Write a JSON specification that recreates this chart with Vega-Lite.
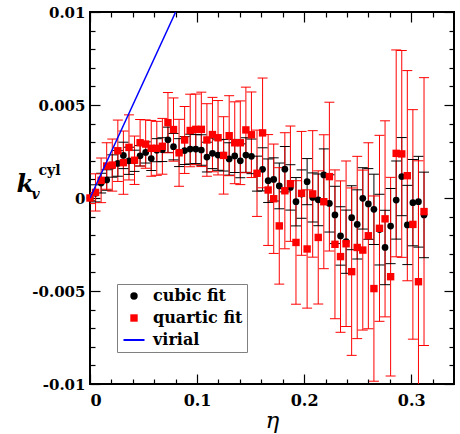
{
 "$schema": "https://vega.github.io/schema/vega-lite/v6.json",
 "width": 364,
 "height": 372,
 "autosize": "none",
 "padding": {"left": 90, "top": 12, "right": 6, "bottom": 50},
 "background": "white",
 "config": {
  "font": "DejaVu Serif",
  "view": {"stroke": "black", "strokeWidth": 2},
  "axis": {"grid": false, "domain": false, "tickColor": "black", "tickWidth": 1.2, "labelFont": "DejaVu Serif", "labelFontWeight": "bold", "labelColor": "black", "labelFontSize": 16, "titleFont": "DejaVu Serif", "titleColor": "black"},
  "legend": {"labelFont": "DejaVu Serif"}
 },
 "datasets": {
  "pts": [
   {"fit":"cubic fit","eta":0,"k":0,"lo":-0.00015,"hi":0.00015},
   {"fit":"cubic fit","eta":0.0052,"k":0.00025,"lo":-0.00021,"hi":0.00071},
   {"fit":"cubic fit","eta":0.0104,"k":0.0008,"lo":0.00027,"hi":0.00133},
   {"fit":"cubic fit","eta":0.0156,"k":0.00097,"lo":0.00042,"hi":0.00152},
   {"fit":"cubic fit","eta":0.0208,"k":0.00172,"lo":0.00112,"hi":0.00232},
   {"fit":"cubic fit","eta":0.026,"k":0.00186,"lo":0.00117,"hi":0.00255},
   {"fit":"cubic fit","eta":0.0312,"k":0.00229,"lo":0.00158,"hi":0.003},
   {"fit":"cubic fit","eta":0.0364,"k":0.002,"lo":0.00127,"hi":0.00273},
   {"fit":"cubic fit","eta":0.0416,"k":0.002,"lo":0.00143,"hi":0.00257},
   {"fit":"cubic fit","eta":0.0468,"k":0.00227,"lo":0.00172,"hi":0.00282},
   {"fit":"cubic fit","eta":0.052,"k":0.00245,"lo":0.00188,"hi":0.00302},
   {"fit":"cubic fit","eta":0.0572,"k":0.00212,"lo":0.00148,"hi":0.00276},
   {"fit":"cubic fit","eta":0.0624,"k":0.00257,"lo":0.00195,"hi":0.00319},
   {"fit":"cubic fit","eta":0.0676,"k":0.0026,"lo":0.00196,"hi":0.00324},
   {"fit":"cubic fit","eta":0.0728,"k":0.00313,"lo":0.00245,"hi":0.00381},
   {"fit":"cubic fit","eta":0.078,"k":0.00276,"lo":0.00205,"hi":0.00347},
   {"fit":"cubic fit","eta":0.0832,"k":0.00244,"lo":0.00169,"hi":0.00319},
   {"fit":"cubic fit","eta":0.0884,"k":0.00255,"lo":0.0018,"hi":0.0033},
   {"fit":"cubic fit","eta":0.0936,"k":0.00263,"lo":0.00183,"hi":0.00343},
   {"fit":"cubic fit","eta":0.0988,"k":0.00263,"lo":0.00185,"hi":0.00341},
   {"fit":"cubic fit","eta":0.104,"k":0.00258,"lo":0.00176,"hi":0.0034},
   {"fit":"cubic fit","eta":0.1092,"k":0.0022,"lo":0.0014,"hi":0.003},
   {"fit":"cubic fit","eta":0.1144,"k":0.0024,"lo":0.00158,"hi":0.00322},
   {"fit":"cubic fit","eta":0.1196,"k":0.00231,"lo":0.00149,"hi":0.00313},
   {"fit":"cubic fit","eta":0.1248,"k":0.0023,"lo":0.00145,"hi":0.00315},
   {"fit":"cubic fit","eta":0.13,"k":0.0021,"lo":0.00123,"hi":0.00297},
   {"fit":"cubic fit","eta":0.1352,"k":0.00226,"lo":0.00137,"hi":0.00315},
   {"fit":"cubic fit","eta":0.1404,"k":0.002,"lo":0.00109,"hi":0.00291},
   {"fit":"cubic fit","eta":0.1456,"k":0.00231,"lo":0.00138,"hi":0.00324},
   {"fit":"cubic fit","eta":0.1508,"k":0.00224,"lo":0.00131,"hi":0.00317},
   {"fit":"cubic fit","eta":0.156,"k":0.00131,"lo":0.00037,"hi":0.00225},
   {"fit":"cubic fit","eta":0.1612,"k":0.00154,"lo":0.00038,"hi":0.0027},
   {"fit":"cubic fit","eta":0.1664,"k":0.00093,"lo":-0.00024,"hi":0.0021},
   {"fit":"cubic fit","eta":0.1716,"k":0.001,"lo":-0.00016,"hi":0.00216},
   {"fit":"cubic fit","eta":0.1768,"k":0.00065,"lo":-0.00058,"hi":0.00188},
   {"fit":"cubic fit","eta":0.182,"k":0.00155,"lo":0.00033,"hi":0.00277},
   {"fit":"cubic fit","eta":0.1872,"k":0.00057,"lo":-0.00065,"hi":0.00179},
   {"fit":"cubic fit","eta":0.1924,"k":-0.0002,"lo":-0.0015,"hi":0.0011},
   {"fit":"cubic fit","eta":0.1976,"k":0.00021,"lo":-0.00109,"hi":0.00151},
   {"fit":"cubic fit","eta":0.2028,"k":0.00088,"lo":-0.00036,"hi":0.00212},
   {"fit":"cubic fit","eta":0.208,"k":0.00003,"lo":-0.00129,"hi":0.00135},
   {"fit":"cubic fit","eta":0.2132,"k":-0.0001,"lo":-0.00149,"hi":0.00129},
   {"fit":"cubic fit","eta":0.2184,"k":0.00124,"lo":-0.00016,"hi":0.00264},
   {"fit":"cubic fit","eta":0.2236,"k":-0.00029,"lo":-0.00183,"hi":0.00125},
   {"fit":"cubic fit","eta":0.2288,"k":-0.00091,"lo":-0.00245,"hi":0.00063},
   {"fit":"cubic fit","eta":0.234,"k":-0.00204,"lo":-0.00361,"hi":-0.00047},
   {"fit":"cubic fit","eta":0.2392,"k":-0.00235,"lo":-0.00405,"hi":-0.00065},
   {"fit":"cubic fit","eta":0.2444,"k":-0.00106,"lo":-0.00278,"hi":0.00066},
   {"fit":"cubic fit","eta":0.2496,"k":-0.00142,"lo":-0.00328,"hi":0.00044},
   {"fit":"cubic fit","eta":0.2548,"k":-0.00002,"lo":-0.00167,"hi":0.00163},
   {"fit":"cubic fit","eta":0.26,"k":-0.00032,"lo":-0.00222,"hi":0.00158},
   {"fit":"cubic fit","eta":0.2652,"k":-0.00061,"lo":-0.0025,"hi":0.00128},
   {"fit":"cubic fit","eta":0.2704,"k":-0.0017,"lo":-0.0036,"hi":0.0002},
   {"fit":"cubic fit","eta":0.2756,"k":-0.00266,"lo":-0.00466,"hi":-0.00066},
   {"fit":"cubic fit","eta":0.2808,"k":-0.00151,"lo":-0.00353,"hi":0.00051},
   {"fit":"cubic fit","eta":0.286,"k":-0.00011,"lo":-0.00221,"hi":0.00199},
   {"fit":"cubic fit","eta":0.2912,"k":0.00115,"lo":-0.00095,"hi":0.00325},
   {"fit":"cubic fit","eta":0.2964,"k":-0.00145,"lo":-0.00358,"hi":0.00068},
   {"fit":"cubic fit","eta":0.3016,"k":-0.00025,"lo":-0.00257,"hi":0.00207},
   {"fit":"cubic fit","eta":0.3068,"k":-0.0002,"lo":-0.00264,"hi":0.00224},
   {"fit":"cubic fit","eta":0.312,"k":-0.00091,"lo":-0.00321,"hi":0.00139},
   {"fit":"quartic fit","eta":0,"k":0,"lo":-0.0003,"hi":0.0003},
   {"fit":"quartic fit","eta":0.0052,"k":0.0003,"lo":-0.0007,"hi":0.0013},
   {"fit":"quartic fit","eta":0.0104,"k":0.00095,"lo":-0.00025,"hi":0.00215},
   {"fit":"quartic fit","eta":0.0156,"k":0.00172,"lo":0.00047,"hi":0.00297},
   {"fit":"quartic fit","eta":0.0208,"k":0.00177,"lo":0.00037,"hi":0.00317},
   {"fit":"quartic fit","eta":0.026,"k":0.00254,"lo":0.00089,"hi":0.00419},
   {"fit":"quartic fit","eta":0.0312,"k":0.0019,"lo":0.0002,"hi":0.0036},
   {"fit":"quartic fit","eta":0.0364,"k":0.00272,"lo":0.00097,"hi":0.00447},
   {"fit":"quartic fit","eta":0.0416,"k":0.00203,"lo":0.00073,"hi":0.00333},
   {"fit":"quartic fit","eta":0.0468,"k":0.00297,"lo":0.00172,"hi":0.00422},
   {"fit":"quartic fit","eta":0.052,"k":0.0029,"lo":0.0016,"hi":0.0042},
   {"fit":"quartic fit","eta":0.0572,"k":0.00267,"lo":0.00117,"hi":0.00417},
   {"fit":"quartic fit","eta":0.0624,"k":0.00267,"lo":0.00122,"hi":0.00412},
   {"fit":"quartic fit","eta":0.0676,"k":0.00278,"lo":0.00128,"hi":0.00428},
   {"fit":"quartic fit","eta":0.0728,"k":0.00405,"lo":0.00243,"hi":0.00567},
   {"fit":"quartic fit","eta":0.078,"k":0.00368,"lo":0.00198,"hi":0.00538},
   {"fit":"quartic fit","eta":0.0832,"k":0.00243,"lo":0.00063,"hi":0.00423},
   {"fit":"quartic fit","eta":0.0884,"k":0.00312,"lo":0.00132,"hi":0.00492},
   {"fit":"quartic fit","eta":0.0936,"k":0.00363,"lo":0.00168,"hi":0.00558},
   {"fit":"quartic fit","eta":0.0988,"k":0.00369,"lo":0.00179,"hi":0.00559},
   {"fit":"quartic fit","eta":0.104,"k":0.00369,"lo":0.00169,"hi":0.00569},
   {"fit":"quartic fit","eta":0.1092,"k":0.00312,"lo":0.00117,"hi":0.00507},
   {"fit":"quartic fit","eta":0.1144,"k":0.00341,"lo":0.00141,"hi":0.00541},
   {"fit":"quartic fit","eta":0.1196,"k":0.00324,"lo":0.00124,"hi":0.00524},
   {"fit":"quartic fit","eta":0.1248,"k":0.00229,"lo":0.00021,"hi":0.00437},
   {"fit":"quartic fit","eta":0.13,"k":0.00335,"lo":0.0012,"hi":0.0055},
   {"fit":"quartic fit","eta":0.1352,"k":0.00297,"lo":0.00077,"hi":0.00517},
   {"fit":"quartic fit","eta":0.1404,"k":0.00297,"lo":0.00072,"hi":0.00522},
   {"fit":"quartic fit","eta":0.1456,"k":0.00366,"lo":0.00136,"hi":0.00596},
   {"fit":"quartic fit","eta":0.1508,"k":0.0034,"lo":0.0011,"hi":0.0057},
   {"fit":"quartic fit","eta":0.156,"k":0.00133,"lo":-0.00099,"hi":0.00365},
   {"fit":"quartic fit","eta":0.1612,"k":0.0035,"lo":0.00055,"hi":0.00645},
   {"fit":"quartic fit","eta":0.1664,"k":0.00043,"lo":-0.00255,"hi":0.00341},
   {"fit":"quartic fit","eta":0.1716,"k":-0.00004,"lo":-0.00298,"hi":0.0029},
   {"fit":"quartic fit","eta":0.1768,"k":-0.0015,"lo":-0.00463,"hi":0.00163},
   {"fit":"quartic fit","eta":0.182,"k":0.00039,"lo":-0.00273,"hi":0.00351},
   {"fit":"quartic fit","eta":0.1872,"k":0.00077,"lo":-0.00233,"hi":0.00387},
   {"fit":"quartic fit","eta":0.1924,"k":-0.00239,"lo":-0.00571,"hi":0.00093},
   {"fit":"quartic fit","eta":0.1976,"k":0.00025,"lo":-0.00308,"hi":0.00358},
   {"fit":"quartic fit","eta":0.2028,"k":-0.00274,"lo":-0.00592,"hi":0.00044},
   {"fit":"quartic fit","eta":0.208,"k":0.00022,"lo":-0.00318,"hi":0.00362},
   {"fit":"quartic fit","eta":0.2132,"k":-0.00212,"lo":-0.0057,"hi":0.00146},
   {"fit":"quartic fit","eta":0.2184,"k":-0.0002,"lo":-0.0038,"hi":0.0034},
   {"fit":"quartic fit","eta":0.2236,"k":0.00115,"lo":-0.00285,"hi":0.00515},
   {"fit":"quartic fit","eta":0.2288,"k":-0.00249,"lo":-0.00649,"hi":0.00151},
   {"fit":"quartic fit","eta":0.234,"k":-0.00315,"lo":-0.00722,"hi":0.00092},
   {"fit":"quartic fit","eta":0.2392,"k":-0.00246,"lo":-0.00691,"hi":0.00199},
   {"fit":"quartic fit","eta":0.2444,"k":-0.00396,"lo":-0.00846,"hi":0.00054},
   {"fit":"quartic fit","eta":0.2496,"k":-0.00266,"lo":-0.00756,"hi":0.00224},
   {"fit":"quartic fit","eta":0.2548,"k":-0.0028,"lo":-0.0071,"hi":0.0015},
   {"fit":"quartic fit","eta":0.26,"k":-0.00203,"lo":-0.00703,"hi":0.00297},
   {"fit":"quartic fit","eta":0.2652,"k":-0.00487,"lo":-0.00985,"hi":0.00011},
   {"fit":"quartic fit","eta":0.2704,"k":-0.00163,"lo":-0.00663,"hi":0.00337},
   {"fit":"quartic fit","eta":0.2756,"k":-0.00112,"lo":-0.00639,"hi":0.00415},
   {"fit":"quartic fit","eta":0.2808,"k":-0.00423,"lo":-0.00957,"hi":0.00111},
   {"fit":"quartic fit","eta":0.286,"k":0.0024,"lo":-0.00316,"hi":0.00796},
   {"fit":"quartic fit","eta":0.2912,"k":0.00237,"lo":-0.00319,"hi":0.00793},
   {"fit":"quartic fit","eta":0.2964,"k":0.0012,"lo":-0.00445,"hi":0.00685},
   {"fit":"quartic fit","eta":0.3016,"k":-0.00142,"lo":-0.00759,"hi":0.00475},
   {"fit":"quartic fit","eta":0.3068,"k":-0.0045,"lo":-0.011,"hi":0.002},
   {"fit":"quartic fit","eta":0.312,"k":-0.00073,"lo":-0.00793,"hi":0.00647}
  ],
  "vir": [
   {"fit":"virial","eta":0,"k":0},
   {"fit":"virial","eta":0.08,"k":0.01}
  ]
 },
 "layer": [
  {
   "data": {"name": "pts"},
   "mark": {"type": "rule", "strokeWidth": 1, "clip": true},
   "encoding": {
    "x": {"field": "eta", "type": "quantitative", "scale": {"domain": [0, 0.34], "nice": false, "zero": false},
     "axis": {"orient": "bottom", "values": [0, 0.1, 0.2, 0.3], "tickSize": -10, "labelPadding": 18, "labelExpr": "'' + datum.value", "title": "η", "titleFontStyle": "italic", "titleFontWeight": "normal", "titleFontSize": 23, "titleY": 43, "titleBaseline": "alphabetic"}},
    "y": {"field": "lo", "type": "quantitative", "scale": {"domain": [-0.01, 0.01], "nice": false, "zero": false},
     "axis": {"orient": "left", "values": [-0.01, -0.005, 0, 0.005, 0.01], "tickSize": -10, "labelPadding": 15, "labelFontSize": 15, "labelExpr": "'' + datum.value", "title": "k", "titleAngle": 0, "titleX": -74, "titleY": 179, "titleAlign": "left", "titleBaseline": "alphabetic", "titleFontSize": 25, "titleFontStyle": "italic", "titleFontWeight": "bold"}},
    "y2": {"field": "hi"},
    "color": {"field": "fit", "type": "nominal", "scale": {"domain": ["cubic fit", "quartic fit", "virial"], "range": ["#000000", "#ff0000", "#0000ff"]},
     "legend": {"title": null, "orient": "none", "legendX": 27, "legendY": 272, "padding": 4, "rowPadding": 6, "strokeColor": "#808080", "fillColor": "white", "symbolSize": 441, "symbolOffset": 5, "labelOffset": 11, "labelFontWeight": "bold", "labelFontSize": 16, "labelColor": "black",
      "encode": {"symbols": {"update": {"size": {"signal": "datum.value === 'virial' ? 441 : 55"}, "stroke": {"scale": "color", "field": "value"}, "strokeWidth": {"signal": "datum.value === 'virial' ? 2 : 0"}, "opacity": {"value": 1}}}}}}
   }
  },
  {
   "data": {"name": "pts"},
   "mark": {"type": "tick", "orient": "horizontal", "size": 10, "thickness": 1, "opacity": 1, "clip": true},
   "encoding": {
    "x": {"field": "eta", "type": "quantitative", "scale": {"domain": [0, 0.34], "nice": false, "zero": false},
     "axis": {"orient": "bottom", "values": [0.02, 0.04, 0.06, 0.08, 0.12, 0.14, 0.16, 0.18, 0.22, 0.24, 0.26, 0.28, 0.32], "tickSize": -5, "labels": false, "title": null}},
    "y": {"field": "lo", "type": "quantitative", "scale": {"domain": [-0.01, 0.01], "nice": false, "zero": false},
     "axis": {"orient": "left", "values": [-0.009, -0.008, -0.007, -0.006, -0.004, -0.003, -0.002, -0.001, 0.001, 0.002, 0.003, 0.004, 0.006, 0.007, 0.008, 0.009], "tickSize": -5, "labels": false, "title": null}},
    "color": {"field": "fit", "type": "nominal", "scale": {"domain": ["cubic fit", "quartic fit", "virial"], "range": ["#000000", "#ff0000", "#0000ff"]}}
   }
  },
  {
   "data": {"name": "pts"},
   "mark": {"type": "tick", "orient": "horizontal", "size": 10, "thickness": 1, "opacity": 1, "clip": true},
   "encoding": {
    "x": {"field": "eta", "type": "quantitative", "scale": {"domain": [0, 0.34], "nice": false, "zero": false},
     "axis": {"orient": "top", "values": [0, 0.1, 0.2, 0.3], "tickSize": -10, "labels": false, "title": null}},
    "y": {"field": "hi", "type": "quantitative", "scale": {"domain": [-0.01, 0.01], "nice": false, "zero": false},
     "axis": {"orient": "right", "values": [-0.01, -0.005, 0, 0.005, 0.01], "tickSize": -10, "labels": false, "title": null}},
    "color": {"field": "fit", "type": "nominal", "scale": {"domain": ["cubic fit", "quartic fit", "virial"], "range": ["#000000", "#ff0000", "#0000ff"]}}
   }
  },
  {
   "data": {"name": "pts"},
   "transform": [{"filter": "datum.fit === 'cubic fit'"}],
   "mark": {"type": "point", "filled": true, "opacity": 1, "size": 45, "strokeWidth": 0},
   "encoding": {
    "x": {"field": "eta", "type": "quantitative", "scale": {"domain": [0, 0.34], "nice": false, "zero": false},
     "axis": {"orient": "top", "values": [0.02, 0.04, 0.06, 0.08, 0.12, 0.14, 0.16, 0.18, 0.22, 0.24, 0.26, 0.28, 0.32], "tickSize": -5, "labels": false, "title": null}},
    "y": {"field": "k", "type": "quantitative", "scale": {"domain": [-0.01, 0.01], "nice": false, "zero": false},
     "axis": {"orient": "right", "values": [-0.009, -0.008, -0.007, -0.006, -0.004, -0.003, -0.002, -0.001, 0.001, 0.002, 0.003, 0.004, 0.006, 0.007, 0.008, 0.009], "tickSize": -5, "labels": false, "title": null}},
    "color": {"field": "fit", "type": "nominal", "scale": {"domain": ["cubic fit", "quartic fit", "virial"], "range": ["#000000", "#ff0000", "#0000ff"]}},
    "shape": {"field": "fit", "type": "nominal", "scale": {"domain": ["cubic fit", "quartic fit", "virial"], "range": ["circle", "square", "stroke"]},
     "legend": {"title": null, "orient": "none", "legendX": 27, "legendY": 272, "padding": 4, "rowPadding": 6, "strokeColor": "#808080", "fillColor": "white", "symbolSize": 441, "symbolOffset": 5, "labelOffset": 11, "labelFontWeight": "bold", "labelFontSize": 16, "labelColor": "black",
      "encode": {"symbols": {"update": {"size": {"signal": "datum.value === 'virial' ? 441 : 55"}, "stroke": {"scale": "color", "field": "value"}, "strokeWidth": {"signal": "datum.value === 'virial' ? 2 : 0"}, "opacity": {"value": 1}}}}}}
   }
  },
  {
   "data": {"name": "pts"},
   "transform": [{"filter": "datum.fit === 'quartic fit'"}],
   "mark": {"type": "point", "filled": true, "opacity": 1, "size": 55, "strokeWidth": 0},
   "encoding": {
    "x": {"field": "eta", "type": "quantitative", "scale": {"domain": [0, 0.34], "nice": false, "zero": false}, "axis": null},
    "y": {"field": "k", "type": "quantitative", "scale": {"domain": [-0.01, 0.01], "nice": false, "zero": false},
     "axis": {"orient": "left", "labels": false, "ticks": false, "domain": false, "title": "cyl", "titleAngle": 0, "titleX": -52, "titleY": 162, "titleAlign": "left", "titleBaseline": "alphabetic", "titleFontSize": 14, "titleFontWeight": "bold"}},
    "color": {"field": "fit", "type": "nominal", "scale": {"domain": ["cubic fit", "quartic fit", "virial"], "range": ["#000000", "#ff0000", "#0000ff"]}},
    "shape": {"field": "fit", "type": "nominal", "scale": {"domain": ["cubic fit", "quartic fit", "virial"], "range": ["circle", "square", "stroke"]}}
   }
  },
  {
   "data": {"name": "vir"},
   "mark": {"type": "line", "strokeWidth": 1.5, "clip": true},
   "encoding": {
    "x": {"field": "eta", "type": "quantitative", "scale": {"domain": [0, 0.34], "nice": false, "zero": false}, "axis": null},
    "y": {"field": "k", "type": "quantitative", "scale": {"domain": [-0.01, 0.01], "nice": false, "zero": false},
     "axis": {"orient": "left", "labels": false, "ticks": false, "domain": false, "title": "v", "titleAngle": 0, "titleX": -59, "titleY": 186, "titleAlign": "left", "titleBaseline": "alphabetic", "titleFontSize": 14, "titleFontStyle": "italic", "titleFontWeight": "bold"}},
    "color": {"field": "fit", "type": "nominal", "scale": {"domain": ["cubic fit", "quartic fit", "virial"], "range": ["#000000", "#ff0000", "#0000ff"]}}
   }
  }
 ],
 "resolve": {"axis": {"x": "independent", "y": "independent"}}
}
